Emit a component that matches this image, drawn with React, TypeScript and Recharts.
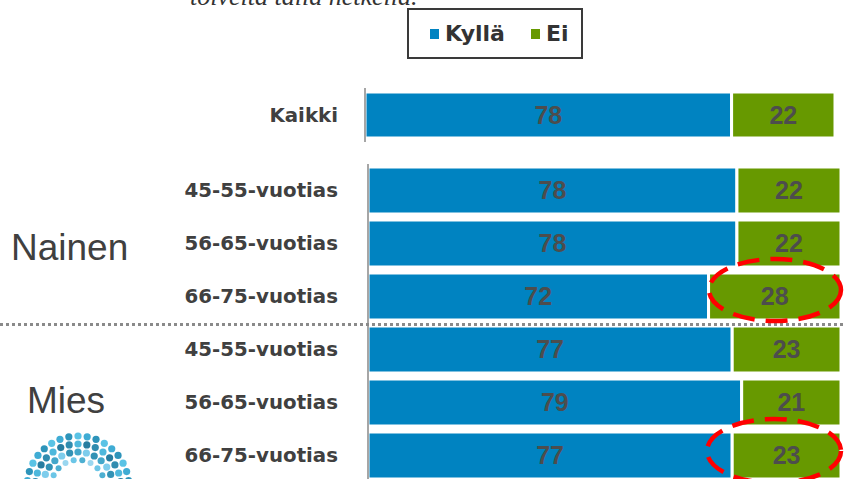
import { Bar, BarChart, LabelList, Legend, XAxis, YAxis } from "recharts";

// Kaikki (all respondents)
const TOTAL_LABELS = ["Kaikki"];
const TOTAL_KYLLA = [78];
const TOTAL_EI = [22];

// Nainen x3, then Mies x3
const AGE_LABELS = [
  "45-55-vuotias",
  "56-65-vuotias",
  "66-75-vuotias",
  "45-55-vuotias",
  "56-65-vuotias",
  "66-75-vuotias",
];
const AGE_KYLLA = [78, 78, 72, 77, 79, 77];
const AGE_EI = [22, 22, 28, 23, 21, 23];

const SERIES_NAMES = ["Kyllä", "Ei"];

const BLUE = "#0083c1";
const GREEN = "#679900";
const LABEL_FONT = "'DejaVu Sans', Verdana, sans-serif";
const VALUE_FONT = "'Liberation Sans', Arial, sans-serif";

const totalData = TOTAL_LABELS.map((_, i) => ({ idx: i, kylla: TOTAL_KYLLA[i], ei: TOTAL_EI[i] }));
const ageData = AGE_LABELS.map((_, i) => ({ idx: i, kylla: AGE_KYLLA[i], ei: AGE_EI[i] }));

function CategoryTick(props: any) {
  const { y, payload, labels } = props;
  return (
    <text
      x={338}
      y={y}
      textAnchor="end"
      dominantBaseline="central"
      fill="#404040"
      fontFamily={LABEL_FONT}
      fontWeight="bold"
      fontSize={19.8}
    >
      {labels[payload.value]}
    </text>
  );
}

function LegendBox({ payload }: any) {
  // keep the series order of the source (Kyllä first)
  const items = [...(payload || [])].sort(
    (a: any, b: any) => SERIES_NAMES.indexOf(a.value) - SERIES_NAMES.indexOf(b.value)
  );
  return (
    <div
      style={{
        boxSizing: "border-box",
        width: 176,
        height: 51,
        border: "2px solid #3a3a3a",
        background: "#fff",
        display: "flex",
        alignItems: "center",
        paddingLeft: 21,
        fontFamily: LABEL_FONT,
        fontWeight: "bold",
        fontSize: 22,
        color: "#333",
      }}
    >
      {items.map((e: any) => (
        <span key={e.value} style={{ display: "flex", alignItems: "center", marginRight: 26 }}>
          <span style={{ display: "inline-block", width: 9, height: 10, background: e.color, marginRight: 6 }} />
          {e.value}
        </span>
      ))}
    </div>
  );
}

const valueLabel = {
  position: "center" as const,
  fill: "#4d4d4d",
  fontSize: 25,
  fontWeight: "bold",
  fontFamily: VALUE_FONT,
};

function Bars() {
  return (
    <>
      <Bar dataKey="kylla" name={SERIES_NAMES[0]} stackId="a" fill={BLUE} stroke="#fff" strokeWidth={3} isAnimationActive={false}>
        <LabelList dataKey="kylla" {...valueLabel} />
      </Bar>
      <Bar dataKey="ei" name={SERIES_NAMES[1]} stackId="a" fill={GREEN} stroke="#fff" strokeWidth={3} isAnimationActive={false}>
        <LabelList dataKey="ei" {...valueLabel} />
      </Bar>
    </>
  );
}

function Logo() {
  const rings = [
    { r: 27, n: 9, c: ["#8fd3ee", "#5cc0e4", "#3aa6cc"] },
    { r: 35, n: 12, c: ["#2f9dc4", "#70c8ea", "#1c86ad"] },
    { r: 43, n: 14, c: ["#1a7fa6", "#3bb0d8", "#0f6f96"] },
    { r: 51, n: 16, c: ["#2aa3cf", "#1688b3", "#48bde2"] },
  ];
  const dots: any[] = [];
  rings.forEach((ring, ri) => {
    for (let k = 0; k <= ring.n; k++) {
      const a = Math.PI * (0.04 + (0.92 * k) / ring.n);
      dots.push(
        <circle
          key={`${ri}-${k}`}
          cx={78 - Math.cos(a) * ring.r}
          cy={487 - Math.sin(a) * ring.r}
          r={ri === 0 ? 3 : 3.6}
          fill={ring.c[k % 3]}
          opacity={0.9}
        />
      );
    }
  });
  return <g>{dots}</g>;
}

export default function App() {
  return (
    <div
      style={{
        position: "absolute",
        left: 0,
        top: 0,
        width: 844,
        height: 479,
        overflow: "hidden",
        background: "#fff",
      }}
    >
      <div style={{ position: "absolute", left: 0, top: 0 }}>
        <BarChart
          width={844}
          height={150}
          data={totalData}
          layout="vertical"
          margin={{ top: 88, right: 9, bottom: 8, left: 0 }}
          barSize={46}
        >
          <XAxis type="number" domain={[0, 100]} hide />
          <YAxis
            type="category"
            dataKey="idx"
            width={365}
            axisLine={{ stroke: "#a6a6a6", strokeWidth: 2 }}
            tickLine={false}
            tick={(p: any) => <CategoryTick {...p} labels={TOTAL_LABELS} />}
          />
          <Legend
            layout="horizontal"
            verticalAlign="middle"
            align="center"
            content={(p: any) => <LegendBox {...p} />}
            wrapperStyle={{ left: 407, top: 8, width: 176, height: 51 }}
          />
          {Bars()}
        </BarChart>
      </div>

      <div style={{ position: "absolute", left: 0, top: 0 }}>
        <BarChart
          width={844}
          height={482}
          data={ageData}
          layout="vertical"
          margin={{ top: 164, right: 3, bottom: 0, left: 0 }}
          barSize={47}
        >
          <XAxis type="number" domain={[0, 100]} hide />
          <YAxis
            type="category"
            dataKey="idx"
            width={368}
            axisLine={{ stroke: "#a6a6a6", strokeWidth: 2 }}
            tickLine={false}
            tick={(p: any) => <CategoryTick {...p} labels={AGE_LABELS} />}
          />
          {Bars()}
        </BarChart>
      </div>

      <svg
        width={844}
        height={479}
        style={{ position: "absolute", left: 0, top: 0, pointerEvents: "none" }}
      >
        <text
          x={190}
          y={5}
          fontFamily="'Liberation Serif', 'Times New Roman', serif"
          fontStyle="italic"
          fontSize={26}
          fill="#333"
        >
          toiveita tällä hetkellä.
        </text>
        <line x1={0} y1={324.5} x2={844} y2={324.5} stroke="#8a8a8a" strokeWidth={3} strokeDasharray="3 3" />
        <text x={11} y={260} fontFamily={VALUE_FONT} fontSize={37} fill="#404040">
          Nainen
        </text>
        <text x={27} y={413} fontFamily={VALUE_FONT} fontSize={37} fill="#404040">
          Mies
        </text>
        <Logo />
        <ellipse cx={775} cy={290} rx={66} ry={31} fill="none" stroke="#ff0000" strokeWidth={4.5} strokeDasharray="22 11" />
        <ellipse cx={774} cy={451} rx={67} ry={32} fill="none" stroke="#ff0000" strokeWidth={4.5} strokeDasharray="22 11" />
      </svg>
    </div>
  );
}
